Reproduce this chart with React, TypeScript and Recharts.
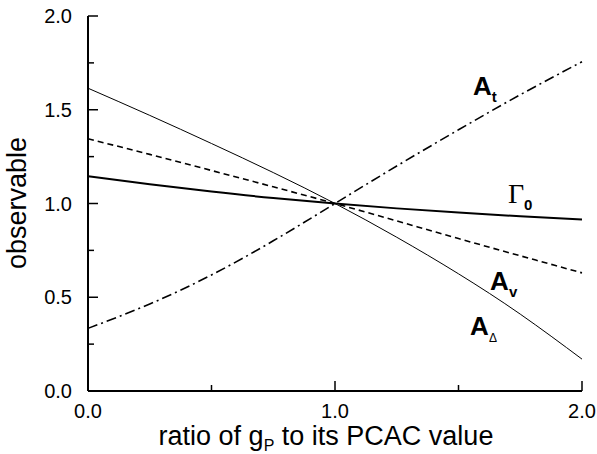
import React from 'react';
import { LineChart, Line, XAxis, YAxis, ReferenceDot } from 'recharts';

// ratio of g_P to its PCAC value
const xs = [0, 0.25, 0.5, 0.75, 1, 1.25, 1.5, 1.75, 2];
const aT = [0.334, 0.464, 0.619, 0.801, 1.0, 1.2, 1.393, 1.58, 1.756];
const aDelta = [1.615, 1.47, 1.32, 1.165, 1.0, 0.82, 0.625, 0.41, 0.17];
const aV = [1.345, 1.262, 1.176, 1.089, 1.0, 0.907, 0.813, 0.721, 0.63];
const gamma0 = [1.145, 1.103, 1.064, 1.029, 1.0, 0.974, 0.952, 0.932, 0.915];

const xTicks = [0, 0.5, 1, 1.5, 2];
const xLabelled = [0, 1, 2];
const yTicks = [0, 0.25, 0.5, 0.75, 1, 1.25, 1.5, 1.75, 2];
const yLabelled = [0, 0.5, 1, 1.5, 2];

const data = xs.map((x, i) => ({ x, aT: aT[i], aDelta: aDelta[i], aV: aV[i], gamma0: gamma0[i] }));

const SANS = '"Liberation Sans", Arial, Helvetica, sans-serif';

const makeTick = (side: 'bottom' | 'top' | 'left' | 'right') => (props: any) => {
  const { x, y, payload } = props;
  const v = payload.value;
  const isX = side === 'bottom' || side === 'top';
  const major = isX ? xLabelled.includes(v) : yLabelled.includes(v);
  const len = major ? 10 : 6;
  let line;
  if (side === 'bottom') line = <line x1={x} y1={y} x2={x} y2={y - len} stroke="#000" strokeWidth={1.5} />;
  else if (side === 'top') line = <line x1={x} y1={y} x2={x} y2={y + len} stroke="#000" strokeWidth={1.5} />;
  else if (side === 'left') line = <line x1={x} y1={y} x2={x + len} y2={y} stroke="#000" strokeWidth={1.5} />;
  else line = <line x1={x} y1={y} x2={x - len} y2={y} stroke="#000" strokeWidth={1.5} />;
  let label = null;
  if (side === 'bottom' && major) {
    label = (
      <text x={x} y={y + 27} textAnchor="middle" fontFamily={SANS} fontSize={20} fill="#000">
        {v.toFixed(1)}
      </text>
    );
  }
  if (side === 'left' && major) {
    label = (
      <text x={x - 16} y={y + 7} textAnchor="end" fontFamily={SANS} fontSize={20} fill="#000">
        {v.toFixed(1)}
      </text>
    );
  }
  return (
    <g>
      {line}
      {label}
    </g>
  );
};

const XTitle = (props: any) => {
  const { viewBox } = props;
  const cx = viewBox.x + viewBox.width / 2 - 9;
  return (
    <text x={cx} y={445} textAnchor="middle" fontFamily={SANS} fontSize={27} fill="#000">
      ratio of g<tspan fontSize={16} dy={6}>P</tspan>
      <tspan dy={-6}> to its PCAC value</tspan>
    </text>
  );
};

const YTitle = () => (
  <text x={26} y={203} transform="rotate(-90 26 203)" textAnchor="middle" fontFamily={SANS} fontSize={27} fill="#000">
    observable
  </text>
);

const Tag = (main: string, sub: string, serif = false, subBold = true, subSize = 15) => (props: any) => {
  const { cx, cy } = props;
  return (
    <text x={cx} y={cy} fill="#000">
      <tspan
        fontFamily={serif ? '"Liberation Serif", "Times New Roman", serif' : SANS}
        fontWeight={serif ? 'normal' : 'bold'}
        fontSize={serif ? 28 : 26}
      >
        {main}
      </tspan>
      <tspan fontFamily={SANS} fontWeight={subBold ? 'bold' : 'normal'} fontSize={subSize} dy={7}>
        {sub}
      </tspan>
    </text>
  );
};

export default function App() {
  return (
    <div style={{ position: 'absolute', left: 0, top: 0, width: 597, height: 454, background: '#fff' }}>
      <LineChart width={597} height={454} data={data} margin={{ top: 16, right: 15, bottom: 0, left: 0 }}>
        <XAxis
          dataKey="x"
          type="number"
          domain={[0, 2]}
          ticks={xTicks}
          interval={0}
          height={63}
          tickSize={0}
          tickMargin={0}
          tickLine={false}
          axisLine={{ stroke: '#000', strokeWidth: 2 }}
          tick={makeTick('bottom')}
          label={{ content: XTitle }}
        />
        <XAxis
          xAxisId="top"
          orientation="top"
          dataKey="x"
          type="number"
          domain={[0, 2]}
          ticks={xTicks}
          interval={0}
          height={0}
          tickSize={0}
          tickMargin={0}
          tickLine={false}
          axisLine={{ stroke: '#000', strokeWidth: 2 }}
          tick={makeTick('top')}
        />
        <YAxis
          type="number"
          domain={[0, 2]}
          ticks={yTicks}
          interval={0}
          width={88}
          tickSize={0}
          tickMargin={0}
          tickLine={false}
          axisLine={{ stroke: '#000', strokeWidth: 2 }}
          tick={makeTick('left')}
          label={{ content: YTitle }}
        />
        <YAxis
          yAxisId="right"
          orientation="right"
          type="number"
          domain={[0, 2]}
          ticks={yTicks}
          interval={0}
          width={0}
          tickSize={0}
          tickMargin={0}
          tickLine={false}
          axisLine={{ stroke: '#000', strokeWidth: 2 }}
          tick={makeTick('right')}
        />
        <Line type="natural" dataKey="aDelta" stroke="#000" strokeWidth={1} dot={false} isAnimationActive={false} />
        <Line type="natural" dataKey="aV" stroke="#000" strokeWidth={1.6} strokeDasharray="6 4" dot={false} isAnimationActive={false} />
        <Line type="natural" dataKey="gamma0" stroke="#000" strokeWidth={2} dot={false} isAnimationActive={false} />
        <Line type="natural" dataKey="aT" stroke="#000" strokeWidth={1.6} strokeDasharray="10 4 2 4" dot={false} isAnimationActive={false} />
        <ReferenceDot x={1.559} y={1.579} r={0} shape={Tag('A', 't')} />
        <ReferenceDot x={1.7} y={1.003} r={0} shape={Tag('\u0393', '0', true)} />
        <ReferenceDot x={1.628} y={0.539} r={0} shape={Tag('A', 'v')} />
        <ReferenceDot x={1.547} y={0.299} r={0} shape={Tag('A', '\u0394', false, false, 12)} />
      </LineChart>
    </div>
  );
}
